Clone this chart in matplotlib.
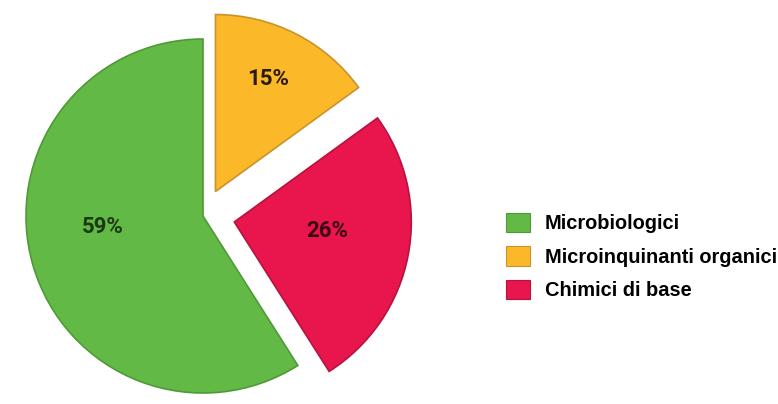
import numpy as np
import matplotlib
matplotlib.use("Agg")
import matplotlib.pyplot as plt
from matplotlib.patches import Patch

# data (legend order)
labels = ["Microbiologici", "Microinquinanti organici", "Chimici di base"]
values = [59, 15, 26]
colors = ["#63b946", "#fbb92a", "#e8164c"]
edges = ["#4f9a38", "#c9922a", "#b8123e"]
txtcolors = ["#1b3a12", "#2a1c05", "#3a0612"]

R = 177
explode = [0, 0.155 * R, 0.18 * R]   # pie() takes explode in data units
# where the % labels sit inside each slice (angle in deg, distance / R)
lab_ang = [186, 65, -5.5]
lab_dist = [0.57, 0.70, 0.53]

fig = plt.figure(figsize=(7.78, 4.04), dpi=100)
ax = fig.add_axes([0, 0, 1, 1])

# green starts at about 5 o'clock and runs clockwise round to 12
wedges, _ = ax.pie(values, colors=colors, explode=explode, startangle=302.4,
                   counterclock=False, center=(203, 188), radius=R,
                   wedgeprops=dict(linewidth=1.2), frame=True)
ax.set_xlim(0, 778)
ax.set_ylim(0, 404)
ax.set_aspect("equal")
ax.axis("off")

for w, ec, v, tc, a, d in zip(wedges, edges, values, txtcolors, lab_ang, lab_dist):
    w.set_edgecolor(ec)
    th = np.deg2rad(a)
    cx, cy = w.center
    ax.text(cx + d * w.r * np.cos(th), cy + d * w.r * np.sin(th), f"{v}%",
            ha="center", va="center", fontsize=16, fontweight="bold",
            color=tc, family=["Roboto", "DejaVu Sans"])

handles = [Patch(facecolor=c, edgecolor=e, linewidth=0.8) for c, e in zip(colors, edges)]
fig.legend(handles, labels, loc="upper left", bbox_to_anchor=(506 / 778, 1 - 213 / 404),
           frameon=False, borderpad=0, borderaxespad=0,
           handlelength=1.2, handleheight=1.1, handletextpad=0.75,
           labelspacing=0.65, prop=dict(family=["Liberation Sans", "DejaVu Sans"],
                                        weight="bold", size=14.4))

fig.savefig("out.png", dpi=100, facecolor="white")
